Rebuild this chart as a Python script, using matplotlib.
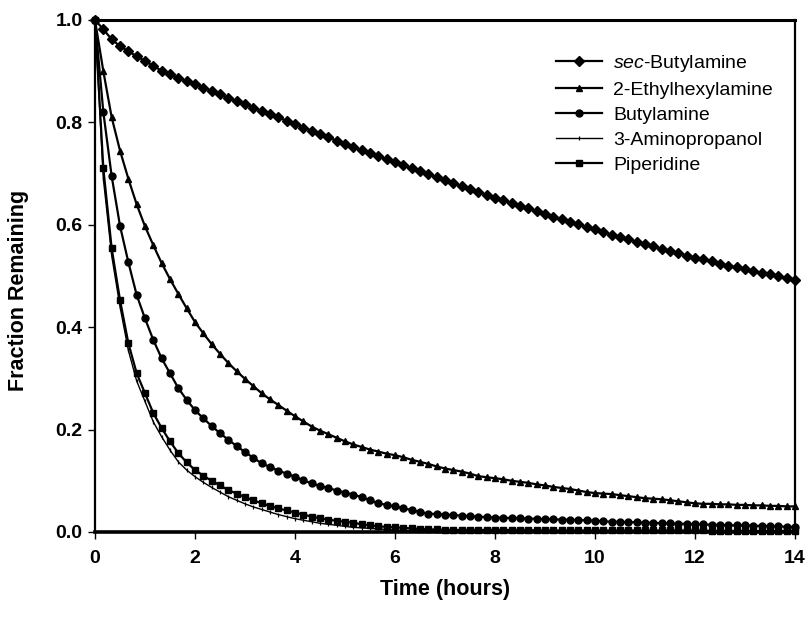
import numpy as np
import matplotlib
matplotlib.use("Agg")
import matplotlib.pyplot as plt

plt.rcParams['font.family'] = ['Liberation Sans', 'DejaVu Sans']
plt.rcParams['mathtext.fontset'] = 'custom'
plt.rcParams['mathtext.it'] = 'Liberation Sans:italic'
plt.rcParams['mathtext.rm'] = 'Liberation Sans'

# time in hours, samples every 10 minutes
time_h = np.arange(85) / 6.0

sec_butylamine = [
    1.000, 0.982, 0.962, 0.949, 0.939, 0.929, 0.920, 0.910, 0.901, 0.894,
    0.887, 0.881, 0.875, 0.868, 0.862, 0.855, 0.848, 0.842, 0.835, 0.829,
    0.822, 0.816, 0.810, 0.803, 0.797, 0.790, 0.784, 0.777, 0.771, 0.764,
    0.758, 0.752, 0.746, 0.740, 0.734, 0.728, 0.722, 0.716, 0.710, 0.705,
    0.699, 0.693, 0.687, 0.681, 0.676, 0.670, 0.664, 0.659, 0.653, 0.648,
    0.642, 0.637, 0.632, 0.626, 0.621, 0.616, 0.611, 0.606, 0.601, 0.596,
    0.591, 0.586, 0.581, 0.576, 0.572, 0.567, 0.562, 0.558, 0.553, 0.549,
    0.545, 0.540, 0.536, 0.533, 0.529, 0.524, 0.520, 0.517, 0.513, 0.510,
    0.506, 0.503, 0.500, 0.496, 0.493]

ethylhexylamine = [
    1.000, 0.900, 0.810, 0.745, 0.690, 0.640, 0.597, 0.560, 0.525, 0.494,
    0.465, 0.437, 0.410, 0.388, 0.367, 0.348, 0.330, 0.314, 0.299, 0.285,
    0.271, 0.259, 0.248, 0.237, 0.226, 0.216, 0.206, 0.198, 0.191, 0.184,
    0.177, 0.171, 0.166, 0.161, 0.157, 0.153, 0.150, 0.146, 0.141, 0.137,
    0.133, 0.128, 0.124, 0.121, 0.118, 0.114, 0.109, 0.107, 0.105, 0.103,
    0.100, 0.098, 0.096, 0.093, 0.091, 0.088, 0.086, 0.084, 0.081, 0.078,
    0.076, 0.075, 0.074, 0.072, 0.070, 0.068, 0.066, 0.065, 0.064, 0.062,
    0.060, 0.058, 0.056, 0.055, 0.055, 0.054, 0.054, 0.053, 0.053, 0.052,
    0.052, 0.051, 0.051, 0.050, 0.050]

butylamine = [
    1.000, 0.820, 0.695, 0.598, 0.527, 0.463, 0.417, 0.375, 0.339, 0.310,
    0.281, 0.258, 0.238, 0.222, 0.207, 0.193, 0.180, 0.168, 0.156, 0.145,
    0.134, 0.127, 0.120, 0.114, 0.108, 0.101, 0.095, 0.090, 0.086, 0.081,
    0.077, 0.073, 0.068, 0.062, 0.056, 0.053, 0.050, 0.046, 0.043, 0.039,
    0.036, 0.035, 0.034, 0.033, 0.032, 0.031, 0.030, 0.029, 0.028, 0.028,
    0.027, 0.027, 0.026, 0.026, 0.025, 0.025, 0.024, 0.024, 0.023, 0.023,
    0.022, 0.021, 0.020, 0.020, 0.019, 0.019, 0.018, 0.018, 0.017, 0.017,
    0.016, 0.016, 0.015, 0.015, 0.014, 0.014, 0.013, 0.013, 0.013, 0.012,
    0.012, 0.011, 0.011, 0.010, 0.010]

aminopropanol = [
    1.000, 0.690, 0.540, 0.440, 0.355, 0.295, 0.255, 0.215, 0.186, 0.160,
    0.137, 0.121, 0.108, 0.097, 0.087, 0.078, 0.069, 0.062, 0.055, 0.049,
    0.044, 0.039, 0.034, 0.030, 0.026, 0.023, 0.020, 0.017, 0.015, 0.013,
    0.011, 0.009, 0.008, 0.007, 0.006, 0.005, 0.004, 0.003, 0.003, 0.003,
    0.002, 0.002, 0.002, 0.002, 0.002, 0.002, 0.002, 0.002, 0.002, 0.002,
    0.001, 0.001, 0.001, 0.001, 0.001, 0.001, 0.001, 0.001, 0.001, 0.001,
    0.001, 0.001, 0.001, 0.001, 0.001, 0.001, 0.001, 0.001, 0.001, 0.001,
    0.001, 0.001, 0.001, 0.001, 0.001, 0.001, 0.001, 0.001, 0.001, 0.001,
    0.001, 0.001, 0.001, 0.001, 0.001]

piperidine = [
    1.000, 0.710, 0.554, 0.453, 0.369, 0.310, 0.271, 0.232, 0.203, 0.177,
    0.154, 0.136, 0.121, 0.110, 0.100, 0.091, 0.082, 0.075, 0.068, 0.062,
    0.056, 0.051, 0.046, 0.042, 0.038, 0.034, 0.030, 0.027, 0.024, 0.022,
    0.020, 0.018, 0.015, 0.013, 0.011, 0.010, 0.009, 0.008, 0.007, 0.006,
    0.005, 0.005, 0.004, 0.004, 0.004, 0.004, 0.004, 0.004, 0.004, 0.004,
    0.004, 0.004, 0.004, 0.003, 0.003, 0.003, 0.003, 0.003, 0.003, 0.003,
    0.003, 0.003, 0.003, 0.003, 0.003, 0.003, 0.003, 0.003, 0.003, 0.003,
    0.003, 0.003, 0.003, 0.003, 0.002, 0.002, 0.002, 0.002, 0.002, 0.002,
    0.002, 0.002, 0.002, 0.002, 0.002]

series_labels = [r"$\it{sec}$-Butylamine", "2-Ethylhexylamine", "Butylamine",
                 "3-Aminopropanol", "Piperidine"]
x_ticks = [0, 2, 4, 6, 8, 10, 12, 14]
y_ticks = [0.0, 0.2, 0.4, 0.6, 0.8, 1.0]

fig = plt.figure(figsize=(8.08, 6.2), dpi=100)
ax = fig.add_axes([95 / 808, 1 - 532 / 620, 700 / 808, 512 / 620])

styles = [
    dict(marker='D', markersize=4.8, linewidth=1.6),
    dict(marker='^', markersize=5.0, linewidth=1.6),
    dict(marker='o', markersize=5.0, linewidth=1.6),
    dict(marker='|', markersize=3.5, linewidth=1.0, markeredgewidth=0.9),
    dict(marker='s', markersize=4.2, linewidth=1.6),
]
data = [sec_butylamine, ethylhexylamine, butylamine, aminopropanol, piperidine]
for vals, lab, st in zip(data, series_labels, styles):
    ax.plot(time_h, vals, color='black', markerfacecolor='black',
            markeredgecolor='black', label=lab, clip_on=False, zorder=3, **st)

ax.set_xlim(0, 14)
ax.set_ylim(0, 1.0)
ax.set_xticks(x_ticks)
ax.set_yticks(y_ticks)
ax.set_xticklabels([str(v) for v in x_ticks])
ax.set_yticklabels([f"{v:.1f}" for v in y_ticks])
ax.tick_params(direction='out', length=5, width=1.0, labelsize=14)
ax.tick_params(axis='x', pad=8)
ax.tick_params(axis='y', pad=4)
for lbl in ax.get_xticklabels() + ax.get_yticklabels():
    lbl.set_fontweight('bold')

ax.spines['bottom'].set_linewidth(2.6)
ax.spines['top'].set_linewidth(2.2)
ax.spines['left'].set_linewidth(1.6)
ax.spines['right'].set_linewidth(1.6)

ax.set_xlabel("Time (hours)", fontsize=15.5, fontweight='bold')
ax.set_ylabel("Fraction Remaining", fontsize=15.5, fontweight='bold')
ax.xaxis.set_label_coords(0.5, (532 - 579) / 512)
ax.yaxis.set_label_coords((29 - 95) / 700, (532 - 290) / 512)

leg = ax.legend(loc='upper left', bbox_to_anchor=((548 - 95) / 700, (532 - 45) / 512),
                frameon=False, fontsize=14, handlelength=2.4, handletextpad=0.55,
                labelspacing=0.38, borderaxespad=0)

fig.savefig("out.png", dpi=100)
